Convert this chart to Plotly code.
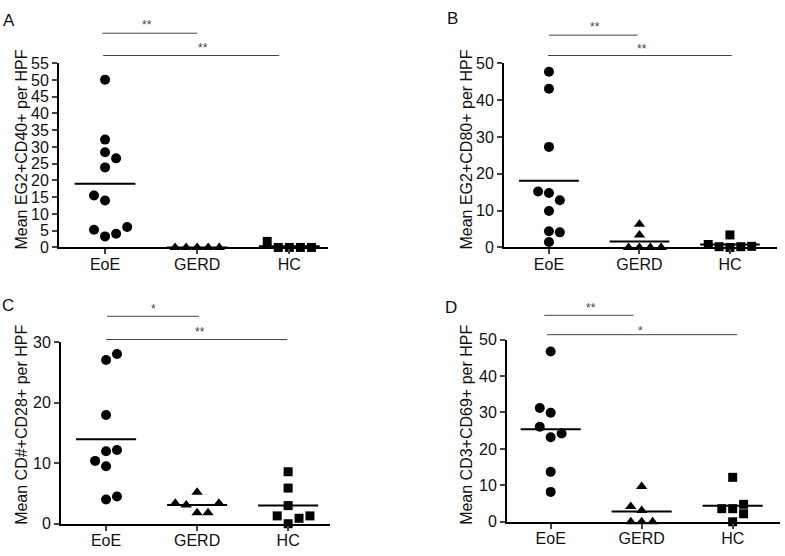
import numpy as np
import plotly.graph_objects as go

W, H = 785, 556

groups = ["EoE", "GERD", "HC"]

# ---- Panel A: EG2+CD40+
a_eoe = [50.1, 32.2, 28.4, 26.6, 23.9, 15.5, 14.0, 5.3, 6.1, 3.3, 4.1]
a_gerd = [0, 0, 0, 0, 0]
a_hc = [1.8, 0, 0, 0, 0]
# ---- Panel B: EG2+CD80+
b_eoe = [47.7, 43.1, 27.3, 15.2, 14.8, 12.8, 9.9, 4.4, 4.1, 1.5]
b_gerd = [6.3, 3.35, 0, 0, 0, 0]
b_hc = [0.8, 0.2, 0, 0.2, 0.3, 3.4]
# ---- Panel C: CD#+CD28+
c_eoe = [27.1, 28.1, 18.0, 12.0, 12.2, 10.4, 9.5, 4.0, 4.5]
c_gerd = [5.2, 3.4, 3.1, 3.4, 1.8, 1.8]
c_hc = [8.6, 5.9, 3.0, 1.3, 0, 0.9, 1.3]
# ---- Panel D: CD3+CD69+
d_eoe = [46.7, 31.2, 29.9, 26.1, 23.2, 24.2, 13.7, 8.2]
d_gerd = [9.7, 4.2, 3.1, 0, 0, 0]
d_hc = [12.2, 3.6, 3.6, 4.8, 2.2, 0]

# horizontal spread index of each point (scatter dot plot layout)
a_off = [[0, 0, 0, 1, 0, -1, 0, -1, 2, 0, 1], [-2, -1, 0, 1, 2], [-2, -1, 0, 1, 2]]
b_off = [[0, 0, 0, -1, 0, 1, 0, 0, 1, 0], [0, 0, -1, 0, 1, 2], [-2, -1, 0, 1, 2, 0]]
c_off = [[0, 1, 0, 0, 1, -1, 0, 0, 1], [0, -2, -1, 2, 0, 1], [0, 0, 0, -1, 0, 1, 2]]
d_off = [[0, -1, 0, -1, 0, 1, 0, 0], [0, -1, 0, -1, 0, 1], [0, -1, 0, 1, 1, 0]]

titles = ["Mean EG2+CD40+ per HPF", "Mean EG2+CD80+ per HPF",
          "Mean CD#+CD28+ per HPF", "Mean CD3+CD69+ per HPF"]
letters = ["A", "B", "C", "D"]
yranges = [[0, 55], [0, 50], [0, 30], [0, 50]]
dticks = [5, 10, 10, 10]

panels = [
    dict(data=[a_eoe, a_gerd, a_hc], off=a_off, xpx=(59, 328), ypx=(57, 247), xr=[-0.5, 2.42],
         letter=(9, 13), title=(22, 146),
         sig=[(-0.03, 1.0, 26, "**", 147, 18), (-0.02, 1.89, 49, "**", 203, 41)]),
    dict(data=[b_eoe, b_gerd, b_hc], off=b_off, xpx=(504, 777), ypx=(57, 247), xr=[-0.497, 2.52],
         letter=(452, 11), title=(467, 146),
         sig=[(0.0, 0.98, 28, "**", 595, 20), (-0.01, 2.02, 49, "**", 642, 42)]),
    dict(data=[c_eoe, c_gerd, c_hc], off=c_off, xpx=(61, 330), ypx=(345, 532), xr=[-0.495, 2.46],
         letter=(8, 307), title=(22, 430),
         sig=[(0.01, 1.02, 318, "*", 153, 311), (0.0, 1.99, 342, "**", 200, 334)]),
    dict(data=[d_eoe, d_gerd, d_hc], off=d_off, xpx=(507, 780), ypx=(342, 530), xr=[-0.48, 2.52],
         letter=(451, 309), title=(467, 430),
         sig=[(-0.07, 0.91, 317, "**", 591, 309), (-0.04, 2.05, 337, "*", 640, 333)]),
]

symbols = ["circle", "triangle-up", "square"]
sizes = [10, 10, 9]
spread = 0.12
half_w = 0.33

fig = go.Figure()
shapes = []
annotations = []
font = "Liberation Sans, Arial, Helvetica, sans-serif"

for k, p in enumerate(panels):
    n = "" if k == 0 else str(k + 1)
    xa, ya = "x" + n, "y" + n
    for gi, vals in enumerate(p["data"]):
        xs = [gi + o * spread for o in p["off"][gi]]
        fig.add_trace(go.Scatter(
            x=xs, y=vals, mode="markers", xaxis=xa, yaxis=ya, cliponaxis=False,
            marker=dict(symbol=symbols[gi], size=sizes[gi], color="black", line=dict(width=0)),
            showlegend=False, hoverinfo="y"))
        m = float(np.mean(vals))
        shapes.append(dict(type="line", xref=xa, yref=ya, x0=gi - half_w, x1=gi + half_w,
                           y0=m, y1=m, line=dict(color="black", width=2), layer="above"))
    x0p, x1p = p["xpx"]
    ytop, ybot = p["ypx"]
    fig.layout["xaxis" + n] = dict(
        domain=[x0p / W, x1p / W], range=p["xr"], anchor=ya,
        tickvals=[0, 1, 2], ticktext=groups, ticks="outside", ticklen=5, tickwidth=2,
        ticklabelstandoff=-4,
        showline=True, linewidth=2, linecolor="black", showgrid=False, zeroline=False,
        tickfont=dict(size=16, color="#111", family=font), fixedrange=True)
    fig.layout["yaxis" + n] = dict(
        domain=[1 - ybot / H, 1 - ytop / H], range=yranges[k], anchor=xa,
        dtick=dticks[k], tick0=0, ticks="outside", ticklen=5, tickwidth=2,
        showline=True, linewidth=2, linecolor="black", showgrid=False, zeroline=False,
        tickfont=dict(size=16, color="#111", family=font), fixedrange=True)
    # panel letter
    lx, ly = p["letter"]
    annotations.append(dict(text=letters[k], x=lx / W, y=1 - ly / H, xref="paper", yref="paper",
                            showarrow=False, xanchor="center", yanchor="middle",
                            font=dict(size=17, color="#111", family=font)))
    # y title
    tx, ty = p["title"]
    annotations.append(dict(text=titles[k], x=tx / W, y=1 - ty / H, xref="paper", yref="paper",
                            showarrow=False, textangle=-90, xanchor="center", yanchor="middle",
                            font=dict(size=16, color="#111", family=font)))
    # significance bars
    for (sx0, sx1, sy, lab, stx, sty) in p["sig"]:
        shapes.append(dict(type="line", xref=xa, yref="paper", x0=sx0, x1=sx1,
                           y0=1 - sy / H, y1=1 - sy / H, line=dict(color="#444", width=1)))
        annotations.append(dict(text=lab, x=stx / W, y=1 - sty / H, xref="paper", yref="paper",
                                showarrow=False, xanchor="center", yanchor="middle",
                                font=dict(size=12, color="#444", family=font)))

fig.update_layout(width=W, height=H, margin=dict(l=0, r=0, t=0, b=0),
                  paper_bgcolor="white", plot_bgcolor="white",
                  shapes=shapes, annotations=annotations, showlegend=False)

fig.write_html("out.html", post_script="document.body.style.margin='0';",
               config={"displayModeBar": False})
